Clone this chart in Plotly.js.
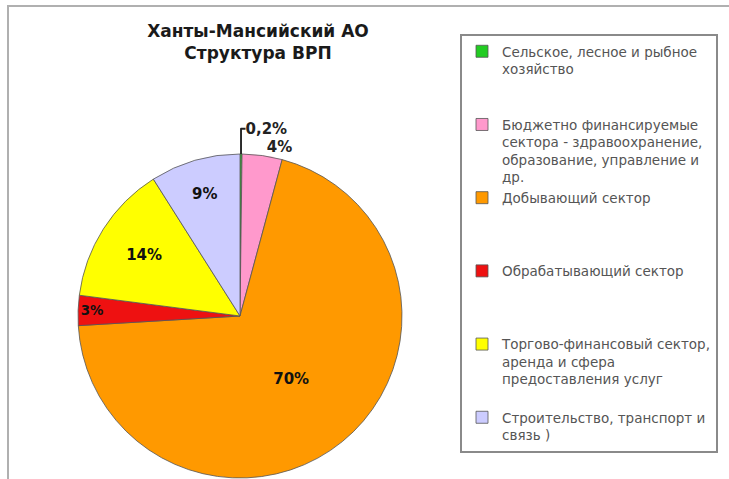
<!DOCTYPE html>
<html>
<head>
<meta charset="utf-8">
<script src="https://cdn.plot.ly/plotly-3.0.1.min.js"></script>
<style>
  html, body { margin: 0; padding: 0; background: #ffffff; }
  #wrap { position: relative; width: 729px; height: 479px; overflow: hidden; }
  #chart { position: absolute; left: 0; top: 0; width: 729px; height: 479px; }
  #frame { position: absolute; left: 7px; top: 5px; width: 760px; height: 520px;
           border-top: 2px solid #b0b0b0; border-left: 2px solid #b0b0b0; pointer-events: none; }
</style>
</head>
<body>
<div id="wrap">
  <div id="chart"></div>
  <div id="frame"></div>
</div>
<script>
// ---- data ----
const categories = [
  "Сельское, лесное и рыбное<br>хозяйство",
  "Бюджетно финансируемые<br>сектора - здравоохранение,<br>образование, управление и<br>др.",
  "Добывающий сектор",
  "Обрабатывающий сектор",
  "Торгово-финансовый сектор,<br>аренда и сфера<br>предоставления услуг",
  "Строительство, транспорт и<br>связь )"
];
const shares = [0.2, 4, 70, 3, 14, 9];
const sliceColors = ["#22cc22", "#ff99cc", "#ff9900", "#ee1111", "#ffff00", "#ccccff"];
const labelPositions = ["outside", "outside", "inside", "inside", "inside", "inside"];
const titleLines = ["Ханты-Мансийский АО", "Структура ВРП"];

// pad legend labels (all but the last) to equal number of lines for even spacing
const LINES = 4;
const legendLabels = categories.map(function (c, idx) {
  if (idx === categories.length - 1) return c;
  let n = c.split("<br>").length;
  let s = c;
  for (let i = n; i < LINES; i++) s += "<br>\u00a0";
  return s;
});
const labelTexts = shares.map(function (v) { return String(v).replace(".", ",") + "%"; });

const trace = {
  type: "pie",
  labels: legendLabels,
  values: shares,
  text: labelTexts,
  textinfo: "text",
  textposition: labelPositions,
  insidetextorientation: "horizontal",
  textfont: { family: "DejaVu Sans, sans-serif", size: 15, color: "#111111", weight: "bold" },
  outsidetextfont: { family: "DejaVu Sans, sans-serif", size: 15, color: "#222222", weight: "bold" },
  marker: { colors: sliceColors, line: { color: "#555555", width: 0.8 } },
  sort: false,
  direction: "clockwise",
  rotation: 0,
  hoverinfo: "none",
  domain: { x: [78 / 729, 402 / 729], y: [1 / 479, 325 / 479] }
};

const layout = {
  width: 729,
  height: 479,
  margin: { l: 0, r: 0, t: 0, b: 0 },
  paper_bgcolor: "#ffffff",
  showlegend: true,
  title: {
    text: "<b>" + titleLines.join("<br>") + "</b>",
    font: { family: "DejaVu Sans, sans-serif", size: 17, color: "#1a1a1a" },
    x: 258 / 729,
    xanchor: "center",
    xref: "paper",
    y: 1 - 37 / 479,
    yref: "container",
    yanchor: "top"
  },
  legend: {
    x: 460 / 729,
    xanchor: "left",
    y: 1 - 34 / 479,
    yanchor: "top",
    valign: "top",
    bgcolor: "#ffffff",
    bordercolor: "#8a8a8a",
    borderwidth: 2,
    font: { family: "DejaVu Sans, sans-serif", size: 13.5, color: "#555555" },
    itemwidth: 30,
    traceorder: "normal"
  }
};

Plotly.newPlot("chart", [trace], layout, { displayModeBar: false, staticPlot: true });
</script>
</body>
</html>
